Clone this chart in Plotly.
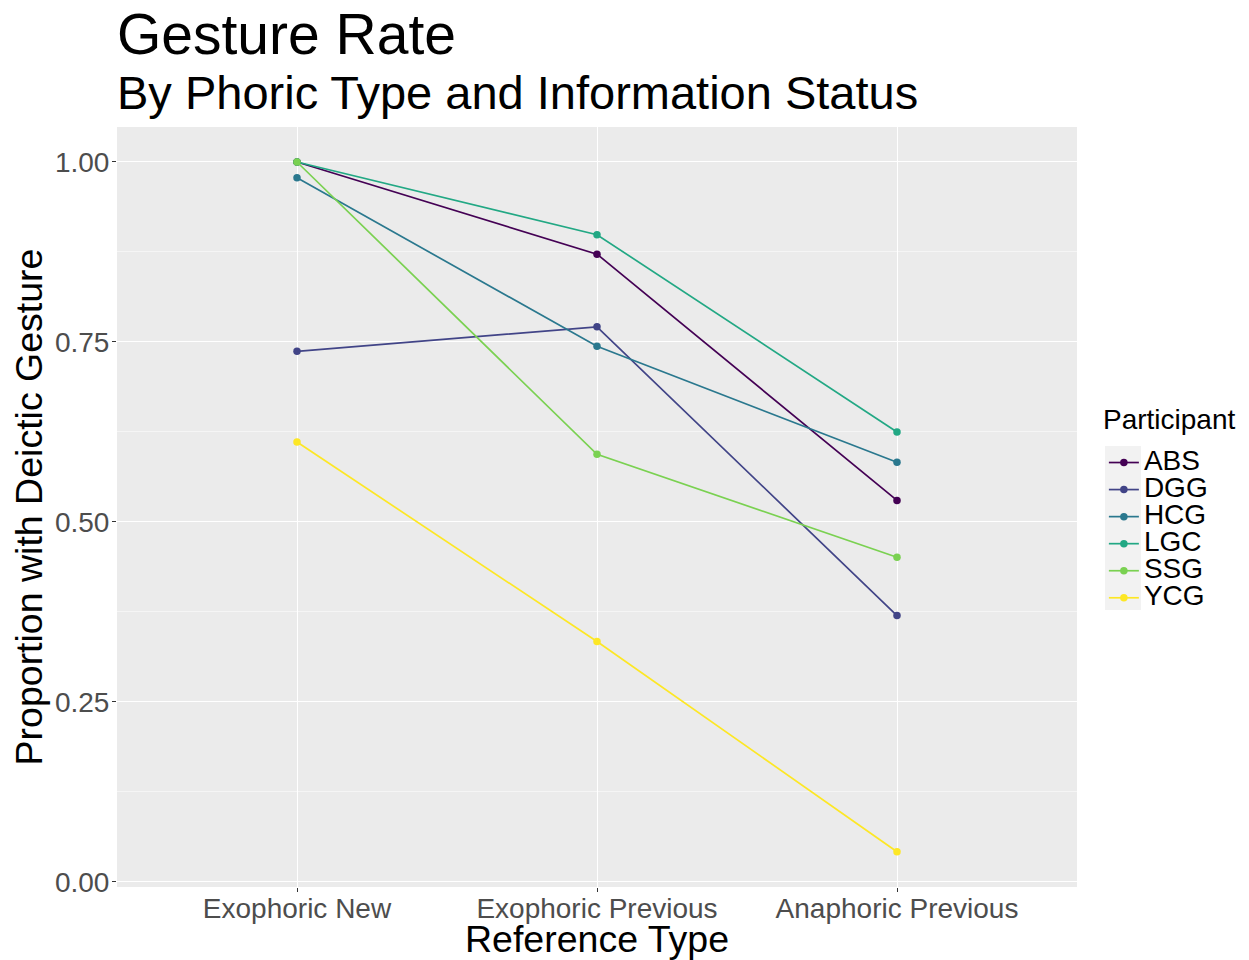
import plotly.graph_objects as go

categories = ["Exophoric New", "Exophoric Previous", "Anaphoric Previous"]
participants = ["ABS", "DGG", "HCG", "LGC", "SSG", "YCG"]
abs_vals = [1.00, 0.872, 0.530]
dgg_vals = [0.737, 0.771, 0.370]
hcg_vals = [0.978, 0.744, 0.583]
lgc_vals = [1.00, 0.899, 0.625]
ssg_vals = [1.00, 0.594, 0.451]
ycg_vals = [0.611, 0.334, 0.042]
series = [abs_vals, dgg_vals, hcg_vals, lgc_vals, ssg_vals, ycg_vals]
colors = ["#440154", "#414487", "#2A788E", "#22A884", "#7AD151", "#FDE725"]
y_ticks = [0.0, 0.25, 0.5, 0.75, 1.0]
y_tick_labels = ["0.00", "0.25", "0.50", "0.75", "1.00"]

FONT = "Liberation Sans, Arial, Helvetica, sans-serif"

# page body has an 8px margin, so the figure is sized to fill the 1249x960 window
fig = go.Figure()
for name, vals, col in zip(participants, series, colors):
    fig.add_trace(go.Scatter(
        x=categories, y=vals, name=f"<span style='font-size:28px'>{name}</span>",
        mode="lines+markers",
        line=dict(color=col, width=1.7),
        marker=dict(color=col, size=7.5),
    ))

fig.update_layout(
    width=1241, height=952,
    paper_bgcolor="white", plot_bgcolor="#EBEBEB",
    margin=dict(l=109, r=172, t=119, b=73, autoexpand=False),
    font=dict(family=FONT, color="black"),
    showlegend=True,
    legend=dict(
        font=dict(size=18.5, color="black"),
        x=1.028, xanchor="left", y=(887 - 444) / 760, yanchor="top",
        bgcolor="rgba(0,0,0,0)", tracegroupgap=0,
    ),
    shapes=[
        dict(type="rect", xref="paper", yref="paper", layer="above",
             x0=(1105 - 117) / 960, x1=(1141 - 117) / 960,
             y0=(887 - 610) / 760, y1=(887 - 446) / 760,
             fillcolor="#F2F2F2", line=dict(width=0)),
    ],
    annotations=[
        dict(text="Gesture Rate", x=0, xref="paper", xanchor="left",
             y=1.0 + 59 / 760, yref="paper", yanchor="bottom",
             showarrow=False, font=dict(size=57, color="black"), xshift=-2),
        dict(text="By Phoric Type and Information Status", x=0, xref="paper", xanchor="left",
             y=1.0 + 6 / 760, yref="paper", yanchor="bottom",
             showarrow=False, font=dict(size=47, color="black"), xshift=-2),
        dict(text="Participant", x=(1101 - 117) / 960, xref="paper", xanchor="left",
             y=(887 - 419) / 760, yref="paper", yanchor="middle",
             showarrow=False, font=dict(size=28, color="black")),
    ],
)

fig.update_xaxes(
    type="category", range=[-0.6, 2.6], automargin=False,
    showgrid=True, gridcolor="white", gridwidth=1.4,
    zeroline=False, showline=False,
    ticks="outside", ticklen=4, tickcolor="#333333", tickwidth=1.2,
    ticklabelstandoff=-8,
    tickfont=dict(size=28, color="#4D4D4D"),
    title=dict(text="Reference Type", font=dict(size=37.5, color="black"), standoff=3),
)
fig.update_yaxes(
    range=[-0.007, 1.0486], automargin=False,
    tickvals=y_ticks, ticktext=y_tick_labels,
    showgrid=True, gridcolor="white", gridwidth=1.4,
    minor=dict(tickvals=[0.125, 0.375, 0.625, 0.875], showgrid=True,
               gridcolor="#F5F5F5", gridwidth=0.8),
    zeroline=False, showline=False,
    ticks="outside", ticklen=4, tickcolor="#333333", tickwidth=1.2,
    ticklabelstandoff=-3,
    tickfont=dict(size=28, color="#4D4D4D"),
    title=dict(text="Proportion with Deictic Gesture", font=dict(size=37.5, color="black"), standoff=0),
)

fig.write_html("out.html")
